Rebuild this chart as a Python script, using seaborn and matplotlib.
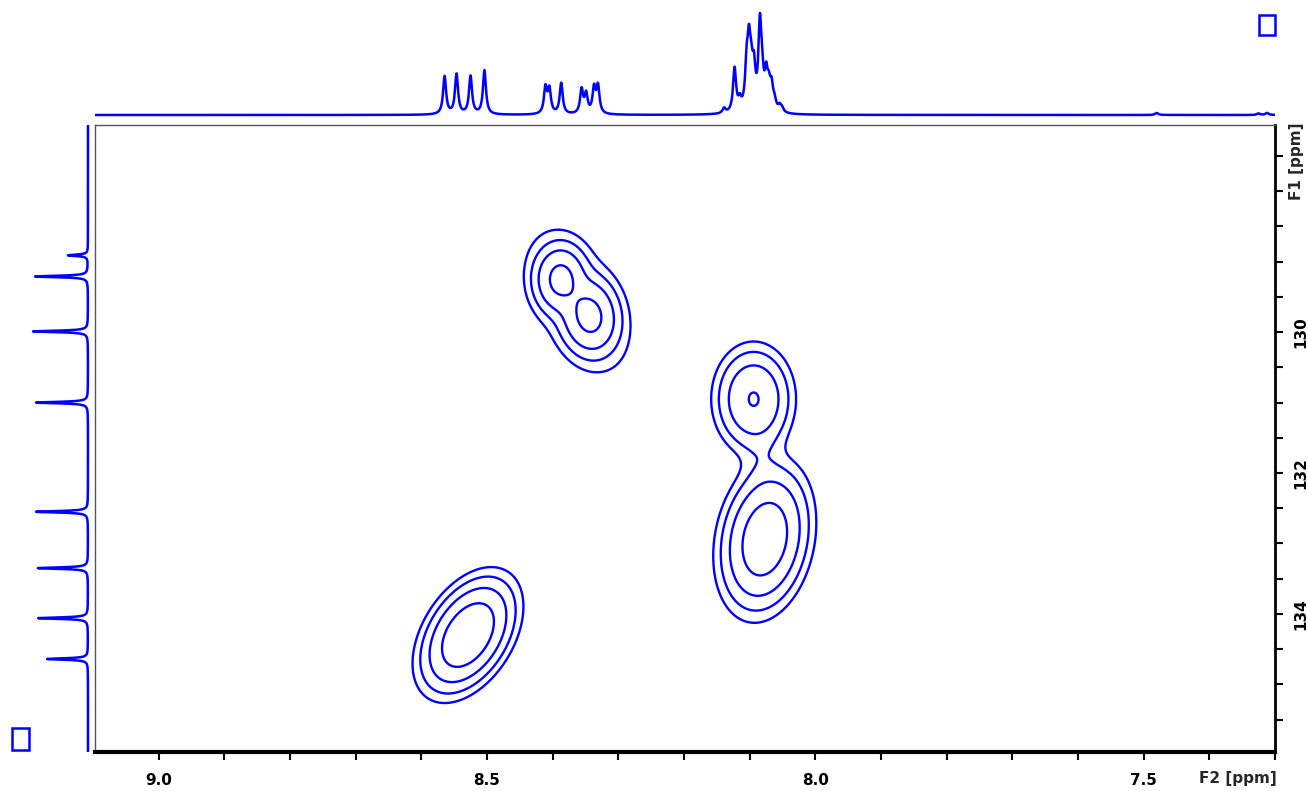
import numpy as np
import pandas as pd
import matplotlib
matplotlib.use('Agg')
import matplotlib.pyplot as plt
from matplotlib.patches import Rectangle
from matplotlib.ticker import MultipleLocator, FixedLocator
import seaborn as sns

# ---- 1H projection (F2, top): line positions [ppm] and heights ----
h_ppm = [8.5646, 8.5464, 8.5251, 8.5039,
         8.411, 8.405, 8.387, 8.356, 8.349, 8.337, 8.331,
         8.139, 8.123, 8.115, 8.1046, 8.101, 8.0976, 8.0935, 8.0844,
         8.0809, 8.0748, 8.0707, 8.0666, 8.062, 8.0544, 8.0505,
         7.48, 7.325, 7.312]
h_int = [38, 40, 38, 44,
         26, 24, 31, 24, 19, 25, 27,
         5, 44, 10, 40, 56, 30, 36, 82,
         24, 32, 20, 22, 9, 6, 4,
         2, 1.5, 2]
h_fwhm = 0.0055

# ---- 13C projection (F1, left) ----
c_ppm = [128.91, 129.21, 129.99, 131.00, 132.55, 133.35, 134.06, 134.64]
c_int = [20, 53, 55, 52, 52, 50, 50, 41]
c_fwhm = 0.025

# ---- HSQC cross peaks ----
xp_f2 = [8.388, 8.344, 8.362, 8.094, 8.077, 8.081, 8.529]
xp_f1 = [129.25, 129.77, 129.56, 130.95, 132.94, 131.74, 134.30]
xp_sx = [0.0180, 0.0200, 0.0430, 0.0234, 0.0258, 0.018, 0.0272]
xp_sy = [0.220, 0.250, 0.560, 0.296, 0.390, 0.355, 0.311]
xp_rho = [0.0, -0.1, -0.5, 0.0, 0.2, 0.0, 0.42]
xp_amp = [61, 61, 3.4, 45, 102, 2.2, 123]
levels = [1, 3.5, 12.25, 42.875]

f2_lim = (9.097, 7.30)
f1_lim = (135.96, 127.06)


def lorentz(axis, centers, heights, fwhm):
    out = np.zeros_like(axis)
    for c, h in zip(centers, heights):
        out += h / (1 + ((axis - c) / (fwhm / 2)) ** 2)
    return out


f2_axis = np.linspace(7.28, 9.12, 4000)
f1_axis = np.linspace(127.0, 136.0, 5000)
top_df = pd.DataFrame({'ppm': f2_axis, 'int': lorentz(f2_axis, h_ppm, h_int, h_fwhm)})
left_df = pd.DataFrame({'ppm': f1_axis, 'int': lorentz(f1_axis, c_ppm, c_int, c_fwhm)})

gx = np.linspace(7.28, 9.12, 800)
gy = np.linspace(127.0, 136.0, 700)
X, Y = np.meshgrid(gx, gy)
Z = np.zeros_like(X)
for x0, y0, sx, sy, r, a in zip(xp_f2, xp_f1, xp_sx, xp_sy, xp_rho, xp_amp):
    dx = (X - x0) / sx
    dy = (Y - y0) / sy
    Z += a * np.exp(-0.5 / (1 - r ** 2) * (dx ** 2 - 2 * r * dx * dy + dy ** 2))

sns.set_theme(style="white")
plt.rcParams['font.family'] = ['DejaVu Sans']

blue = '#0000ff'
fig = plt.figure(figsize=(13.08, 7.91), dpi=100)
ax = fig.add_axes([95 / 1308, 39 / 791, 1180 / 1308, 627 / 791])
ax_top = fig.add_axes([95 / 1308, 666 / 791, 1180 / 1308, 125 / 791])
ax_left = fig.add_axes([0, 39 / 791, 95 / 1308, 627 / 791])

# contours
ax.contour(X, Y, Z, levels=levels, colors=blue, linewidths=1.7)
ax.set_xlim(*f2_lim)
ax.set_ylim(*f1_lim)
ax.xaxis.set_major_locator(FixedLocator([9.0, 8.5, 8.0, 7.5]))
ax.xaxis.set_minor_locator(MultipleLocator(0.1))
ax.yaxis.tick_right()
ax.yaxis.set_major_locator(FixedLocator([128, 130, 132, 134]))
ax.yaxis.set_minor_locator(MultipleLocator(0.5))
ax.set_yticklabels(['', '130', '132', '134'], rotation=90, va='center')
ax.set_xticklabels(['9.0', '8.5', '8.0', '7.5'])
for lab in ax.get_xticklabels() + ax.get_yticklabels():
    lab.set_fontweight('bold')
    lab.set_fontsize(11)
ax.tick_params(axis='x', which='both', direction='out', length=6, width=1.5,
               bottom=True, pad=9, colors='black')
ax.tick_params(axis='y', which='both', direction='out', length=6, width=1.5,
               right=True, left=False, pad=7, colors='black')
ax.spines['bottom'].set_linewidth(3)
ax.spines['bottom'].set_color('black')
ax.spines['right'].set_linewidth(2)
ax.spines['right'].set_color('black')
ax.spines['top'].set_linewidth(1)
ax.spines['top'].set_color('#555555')
ax.spines['left'].set_linewidth(1)
ax.spines['left'].set_color('#555555')
ax.set_xlabel('')
ax.set_ylabel('')
ax.text(1.0186, 0.9426, 'F1 [ppm]', transform=ax.transAxes, rotation=90,
        ha='center', va='center', fontsize=11, fontweight='bold')
ax.text(0.9686, -0.0415, 'F2 [ppm]', transform=ax.transAxes,
        ha='center', va='center', fontsize=11, fontweight='bold')

# top 1H projection
sns.lineplot(data=top_df, x='ppm', y='int', ax=ax_top, color=blue,
             linewidth=1.8, estimator=None)
ax_top.set_xlim(*f2_lim)
ax_top.set_ylim(-10, 115)
ax_top.axis('off')

# left 13C projection
sns.lineplot(data=left_df, x='int', y='ppm', ax=ax_left, color=blue,
             linewidth=1.8, estimator=None, orient='y')
ax_left.set_ylim(*f1_lim)
ax_left.set_xlim(88, -7)
ax_left.axis('off')

# small marker boxes
fig.patches.append(Rectangle((1259 / 1308, 1 - 35 / 791), 16 / 1308, 20 / 791,
                             transform=fig.transFigure, fill=False,
                             edgecolor=blue, linewidth=1.8))
fig.patches.append(Rectangle((12 / 1308, 1 - 750 / 791), 17 / 1308, 22 / 791,
                             transform=fig.transFigure, fill=False,
                             edgecolor=blue, linewidth=1.8))

fig.savefig('out.png', dpi=100)
